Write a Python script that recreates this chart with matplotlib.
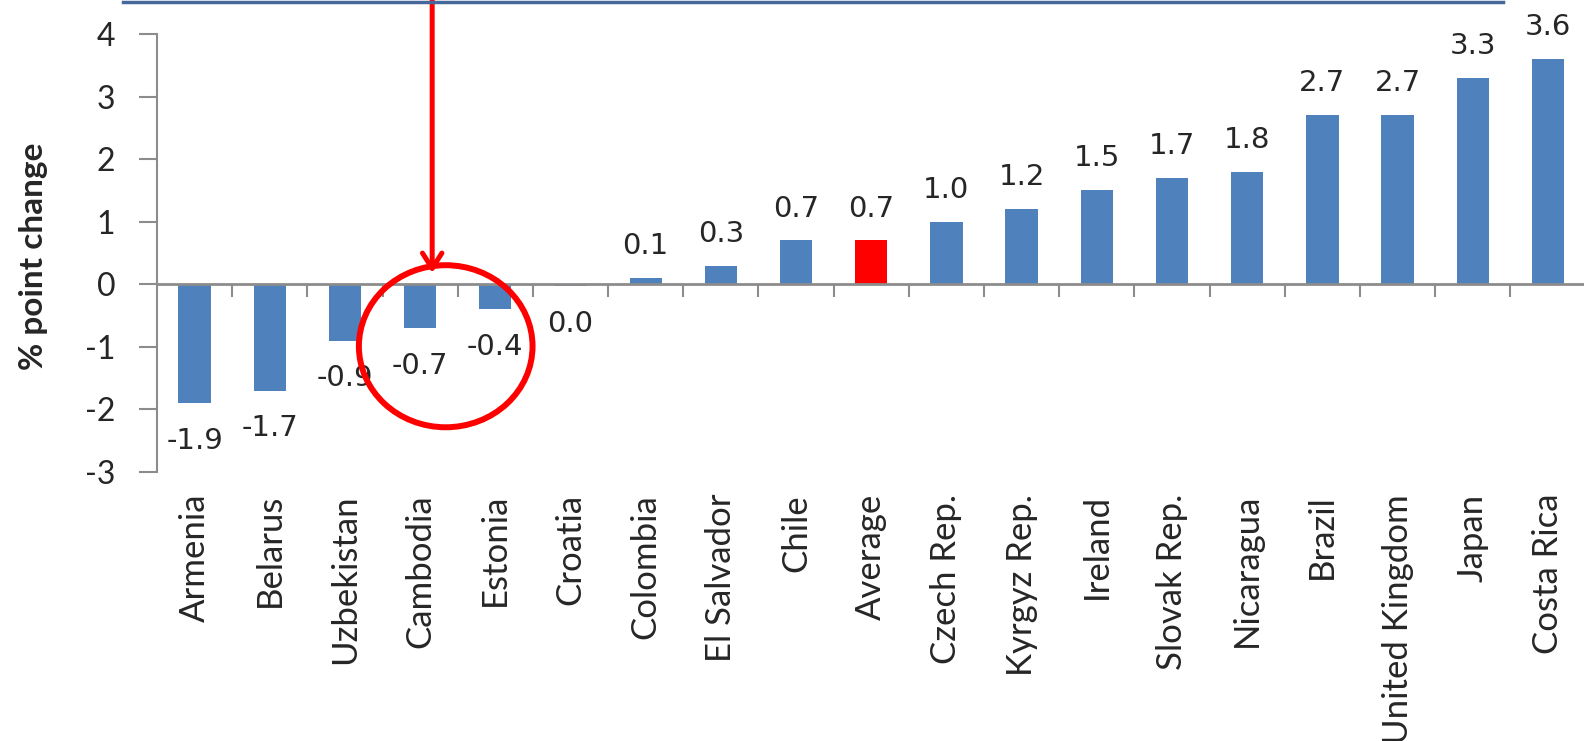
import matplotlib
matplotlib.use("Agg")
import matplotlib.pyplot as plt
from matplotlib.patches import Ellipse
from matplotlib.lines import Line2D
from matplotlib.transforms import blended_transform_factory

# Change in share, percentage points
countries = ["Armenia", "Belarus", "Uzbekistan", "Cambodia", "Estonia", "Croatia",
             "Colombia", "El Salvador", "Chile", "Average", "Czech Rep.", "Kyrgyz Rep.",
             "Ireland", "Slovak Rep.", "Nicaragua", "Brazil", "United Kingdom", "Japan",
             "Costa Rica"]
values = [-1.9, -1.7, -0.9, -0.7, -0.4, -0.03, 0.1, 0.3, 0.7, 0.7, 1.0, 1.2,
          1.5, 1.7, 1.8, 2.7, 2.7, 3.3, 3.6]
highlight = "Average"
y_ticks = [-3, -2, -1, 0, 1, 2, 3, 4]

BLUE = "#4F81BD"
RED = "#FF0000"
AXIS = "#8C8C8C"
TEXT = "#262626"

W, H = 1584, 741
fig = plt.figure(figsize=(W / 100, H / 100), dpi=100)
ax = fig.add_axes([157 / W, 1 - 472 / H, 1 - 157 / W, (472 - 34) / H])

n = len(countries)
xs = list(range(n))
colors = [RED if c == highlight else BLUE for c in countries]
ax.bar(xs, values, width=0.43, color=colors, zorder=2)

ax.set_xlim(-0.5, 18.48)
ax.set_ylim(-3, 4)

# Axes styling: vertical axis on the left, category axis crossing at zero
for side in ("top", "right"):
    ax.spines[side].set_visible(False)
ax.spines["left"].set_color(AXIS)
ax.spines["left"].set_linewidth(1.5)
ax.spines["bottom"].set_position(("data", 0))
ax.spines["bottom"].set_color(AXIS)
ax.spines["bottom"].set_linewidth(2)
ax.spines["bottom"].set_zorder(3)

ax.set_yticks(y_ticks)
ax.set_yticklabels([str(t) for t in y_ticks], fontfamily="Lato", fontsize=23, color=TEXT)
ax.tick_params(axis="y", direction="out", length=13, width=1.5, color=AXIS, pad=17)

ax.set_xticks([i + 0.5 for i in range(n - 1)])
ax.set_xticklabels([])
ax.tick_params(axis="x", direction="out", length=9, width=1.5, color=AXIS)

# Category names below the plotting area
trans = blended_transform_factory(ax.transData, ax.transAxes)
for x, name in zip(xs, countries):
    ax.text(x, -0.05, name, transform=trans, rotation=90, ha="center", va="top",
            fontfamily="Lato", fontsize=25, color=TEXT)

# Value labels at bar ends
for x, v in zip(xs, values):
    s = f"{v:.1f}"
    if s == "-0.0":
        s = "0.0"
    off = 23 if v > 0 else -27
    ax.annotate(s, (x, v), xytext=(0, off), textcoords="offset points",
                ha="center", va="center", fontfamily="DejaVu Sans", fontsize=21,
                color=TEXT, annotation_clip=False, zorder=4)

fig.text(34 / W, 1 - 256 / H, "% point change", rotation=90, ha="center", va="center",
         fontfamily="Lato", fontweight="bold", fontsize=24, color=TEXT)

# Callout: ellipse around the small declines and an arrow from the box above
ax.add_patch(Ellipse((3.34, -0.99), 2.31, 2.59, fill=False, edgecolor=RED,
                     linewidth=4.3, zorder=5, clip_on=False))
ax.annotate("", xy=(3.16, 0.18), xytext=(3.16, 4.6),
            arrowprops=dict(arrowstyle="->,head_length=1.1,head_width=0.7",
                            color=RED, linewidth=3.6, shrinkA=0, shrinkB=0),
            annotation_clip=False, zorder=6)

fig.add_artist(Line2D([123 / W, 1503 / W], [1 - 1.5 / H, 1 - 1.5 / H],
                      color="#45679A", linewidth=2.5))

fig.savefig("out.png", dpi=100)
